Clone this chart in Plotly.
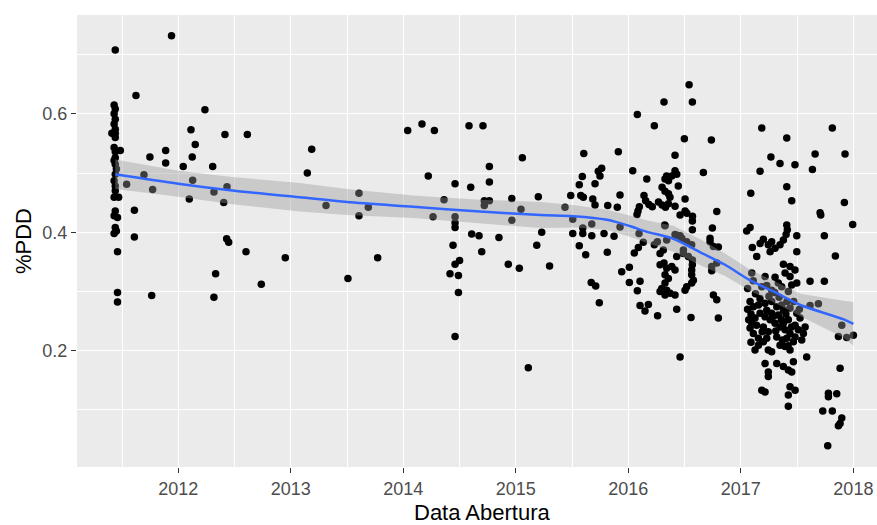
import plotly.graph_objects as go

# Opening date (decimal year) of each contract
abertura = [
    # 2011 batch
    2011.44, 2011.43, 2011.44, 2011.43, 2011.44, 2011.43, 2011.44, 2011.41, 2011.44, 2011.44,
    2011.43, 2011.44, 2011.485, 2011.44, 2011.43, 2011.44, 2011.45, 2011.44, 2011.43, 2011.44,
    2011.44, 2011.43, 2011.47, 2011.44, 2011.43, 2011.46, 2011.44, 2011.45, 2011.43, 2011.46,
    2011.46, 2011.46,
    # 2011.5 - 2013
    2011.541, 2011.624, 2011.61, 2011.61, 2011.695, 2011.748, 2011.764, 2011.772, 2011.888, 2011.888,
    2011.94, 2012.044, 2012.098, 2012.113, 2012.124, 2012.128, 2012.151, 2012.237, 2012.306, 2012.317,
    2012.317, 2012.332, 2012.404, 2012.415, 2012.43, 2012.433, 2012.448, 2012.602, 2012.614, 2012.738,
    2012.951,
    # 2013 - 2015.3
    2013.186, 2013.147, 2013.313, 2013.606, 2013.689, 2013.606, 2013.772, 2013.508, 2014.039, 2014.166,
    2014.276, 2014.222, 2014.264, 2014.362, 2014.584, 2014.708, 2014.765, 2014.46, 2014.599, 2014.765,
    2014.72, 2014.765, 2014.72, 2014.46, 2014.46, 2014.46, 2014.608, 2014.673, 2014.85, 2014.442,
    2014.697, 2014.46, 2014.50, 2014.415, 2014.49, 2014.49, 2014.46, 2015.058, 2014.964, 2015.046,
    2014.964, 2014.933, 2015.031, 2015.23, 2015.186, 2015.2, 2015.30, 2015.111,
    # 2015.3 - 2016.8
    2016.54, 2016.317, 2016.569, 2016.08, 2016.231, 2016.498, 2016.738, 2015.604, 2015.911, 2016.415,
    2016.039, 2015.763, 2015.733, 2015.748, 2015.591, 2016.164, 2016.415, 2016.43, 2016.386, 2016.667,
    2016.34, 2016.326, 2016.357, 2015.704, 2015.564, 2016.444, 2016.30, 2016.326, 2016.357, 2016.37,
    2015.488, 2015.577, 2015.6, 2015.926, 2015.684, 2015.704, 2015.817, 2015.902, 2016.139, 2016.154,
    2016.183, 2016.213, 2016.098, 2016.086, 2016.077, 2016.268, 2016.30, 2016.356, 2016.33, 2016.415,
    2016.504, 2016.504, 2016.52, 2016.57, 2016.46, 2016.786, 2016.326, 2015.437,
    2015.506, 2015.506, 2015.595, 2015.595, 2015.675, 2015.675, 2015.784, 2015.873, 2015.926, 2016.095,
    2016.569, 2016.747, 2016.726, 2016.415, 2016.46,
    2015.564, 2015.621, 2015.813, 2015.67, 2015.71, 2015.742, 2015.941, 2016.009, 2016.009, 2016.104,
    2016.08, 2016.053, 2016.089, 2016.133, 2016.104, 2016.178, 2016.148, 2016.26, 2016.43, 2016.557,
    2016.46,
    2016.231, 2016.258, 2016.311, 2016.341, 2016.282,
    2016.282, 2016.317, 2016.341, 2016.386, 2016.415, 2016.326, 2016.356, 2016.326, 2016.297, 2016.282,
    2016.326, 2016.371, 2016.415, 2016.341,
    2016.519, 2016.504, 2016.563, 2016.578, 2016.563, 2016.563, 2016.569, 2016.569, 2016.533, 2016.489,
    2016.43,
    2016.43, 2016.475, 2016.519, 2016.563, 2016.489, 2016.323, 2016.569,
    2016.726, 2016.756, 2016.741, 2016.786, 2016.756, 2016.786, 2016.8, 2016.741,
    # 2016.8 - 2018
    2017.186, 2017.408, 2017.813, 2017.267, 2017.348, 2017.481, 2017.171, 2017.66, 2017.926, 2017.636,
    2017.088, 2017.408, 2017.452, 2017.92, 2017.704, 2017.71, 2017.994, 2017.052, 2017.082,
    2017.408, 2017.413, 2017.402, 2017.378, 2017.348, 2017.304, 2017.26, 2017.244, 2017.274, 2017.2,
    2017.171, 2017.497, 2017.742, 2016.8, 2017.102, 2017.141, 2017.497, 2017.84,
    2017.378, 2017.437, 2017.481, 2017.393, 2017.437, 2017.497, 2017.452, 2017.363, 2017.422,
    2017.097, 2017.215, 2017.304, 2017.333, 2017.274, 2017.186, 2017.615, 2017.742, 2017.689, 2017.615,
    2017.082, 2017.111, 2017.156, 2017.215, 2017.274, 2017.319, 2017.363, 2017.378, 2017.437, 2017.497,
    2017.526, 2017.571, 2017.556, 2017.541, 2017.482, 2017.437, 2017.393, 2017.348, 2017.304, 2017.26,
    2017.215, 2017.171, 2017.126, 2017.097, 2017.082, 2017.111, 2017.156, 2017.2, 2017.156, 2017.126,
    2017.244, 2017.274, 2017.348, 2017.393, 2017.437, 2017.467, 2017.408, 2017.319, 2017.244, 2017.2,
    2017.274, 2017.333, 2017.422, 2017.482, 2017.511, 2017.378, 2017.23,
    2017.06, 2017.07, 2017.09, 2017.14, 2017.19, 2017.23, 2017.29, 2017.31, 2017.36, 2017.40,
    2017.45, 2017.47, 2017.52, 2017.17, 2017.25, 2017.13, 2017.34, 2017.41, 2017.06, 2017.11,
    2017.23, 2017.30, 2017.09, 2017.37, 2017.42,
    2017.585, 2017.215, 2017.244, 2017.244, 2017.319, 2017.378, 2017.422, 2017.452, 2017.467,
    2017.186, 2017.215, 2017.437, 2017.482, 2017.422, 2017.422,
    2017.882, 2017.778, 2017.852, 2017.778, 2017.728, 2017.813, 2017.897, 2017.882, 2017.867, 2017.772,
    2017.867, 2017.941, 2018.0, 2017.897,
]

pdd = [
    # 2011 batch
    0.708, 0.615, 0.608, 0.600, 0.591, 0.583, 0.574, 0.567, 0.567, 0.560,
    0.543, 0.536, 0.538, 0.526, 0.521, 0.515, 0.507, 0.498, 0.487, 0.478,
    0.470, 0.459, 0.459, 0.436, 0.428, 0.425, 0.408, 0.402, 0.398, 0.367,
    0.298, 0.282,
    # 2011.5 - 2013
    0.481, 0.631, 0.437, 0.392, 0.497, 0.527, 0.293, 0.472, 0.538, 0.517,
    0.732, 0.511, 0.456, 0.573, 0.527, 0.488, 0.548, 0.607, 0.511, 0.468,
    0.290, 0.330, 0.450, 0.565, 0.389, 0.477, 0.383, 0.367, 0.565, 0.312,
    0.357,
    # 2013 - 2015.3
    0.540, 0.500, 0.445, 0.466, 0.442, 0.428, 0.357, 0.322, 0.572, 0.583,
    0.572, 0.495, 0.426, 0.455, 0.580, 0.580, 0.511, 0.482, 0.476, 0.485,
    0.453, 0.453, 0.445, 0.426, 0.416, 0.408, 0.397, 0.394, 0.391, 0.378,
    0.367, 0.346, 0.352, 0.330, 0.327, 0.298, 0.224, 0.526, 0.457, 0.439,
    0.420, 0.346, 0.339, 0.400, 0.378, 0.460, 0.343, 0.171,
    # 2015.3 - 2016.8
    0.649, 0.620, 0.620, 0.599, 0.580, 0.558, 0.556, 0.533, 0.536, 0.530,
    0.504, 0.508, 0.503, 0.495, 0.494, 0.490, 0.504, 0.498, 0.495, 0.501,
    0.495, 0.490, 0.487, 0.482, 0.480, 0.478, 0.476, 0.469, 0.465, 0.459,
    0.462, 0.462, 0.459, 0.463, 0.456, 0.446, 0.445, 0.442, 0.462, 0.453,
    0.447, 0.443, 0.443, 0.436, 0.430, 0.451, 0.446, 0.448, 0.442, 0.444,
    0.456, 0.436, 0.432, 0.427, 0.429, 0.435, 0.411, 0.442,
    0.422, 0.398, 0.407, 0.398, 0.414, 0.394, 0.398, 0.393, 0.409, 0.398,
    0.404, 0.407, 0.390, 0.396, 0.394,
    0.377, 0.362, 0.366, 0.315, 0.309, 0.281, 0.333, 0.341, 0.315, 0.317,
    0.301, 0.365, 0.374, 0.383, 0.276, 0.278, 0.267, 0.259, 0.270, 0.256,
    0.189,
    0.379, 0.384, 0.370, 0.387, 0.364,
    0.345, 0.348, 0.339, 0.342, 0.336, 0.328, 0.322, 0.314, 0.305, 0.300,
    0.294, 0.297, 0.294, 0.302,
    0.308, 0.302, 0.314, 0.319, 0.328, 0.336, 0.345, 0.353, 0.359, 0.364,
    0.359,
    0.395, 0.390, 0.384, 0.379, 0.370, 0.412, 0.419,
    0.384, 0.376, 0.342, 0.348, 0.294, 0.286, 0.255, 0.335,
    # 2016.8 - 2018
    0.576, 0.559, 0.576, 0.527, 0.516, 0.514, 0.503, 0.532, 0.532, 0.506,
    0.466, 0.477, 0.453, 0.450, 0.433, 0.429, 0.413, 0.402, 0.408,
    0.412, 0.404, 0.396, 0.387, 0.379, 0.373, 0.367, 0.379, 0.384, 0.388,
    0.381, 0.394, 0.394, 0.375, 0.374, 0.359, 0.367, 0.360,
    0.346, 0.342, 0.336, 0.331, 0.325, 0.314, 0.311, 0.308, 0.300,
    0.331, 0.325, 0.324, 0.314, 0.302, 0.308, 0.317, 0.317, 0.279, 0.276,
    0.283, 0.274, 0.277, 0.280, 0.283, 0.274, 0.277, 0.269, 0.272, 0.263,
    0.255, 0.240, 0.229, 0.218, 0.223, 0.229, 0.235, 0.240, 0.246, 0.252,
    0.257, 0.263, 0.255, 0.246, 0.238, 0.229, 0.221, 0.215, 0.209, 0.201,
    0.201, 0.198, 0.209, 0.207, 0.201, 0.215, 0.221, 0.223, 0.232, 0.240,
    0.263, 0.260, 0.252, 0.243, 0.235, 0.246, 0.221,
    0.270, 0.252, 0.262, 0.243, 0.232, 0.268, 0.258, 0.233, 0.252, 0.262,
    0.240, 0.283, 0.270, 0.288, 0.292, 0.296, 0.290, 0.283, 0.305, 0.318,
    0.310, 0.298, 0.214, 0.218, 0.208,
    0.189, 0.178, 0.164, 0.156, 0.178, 0.173, 0.167, 0.164, 0.181,
    0.133, 0.130, 0.139, 0.133, 0.125, 0.106,
    0.170, 0.128, 0.127, 0.122, 0.098, 0.098, 0.086, 0.077, 0.073, 0.039,
    0.224, 0.222, 0.226, 0.243,
]

# Local regression fit with its standard-error half width
smooth_x = [2011.44, 2012.0, 2012.5, 2013.08, 2013.5, 2014.09, 2014.68, 2015.22, 2015.51, 2015.81,
            2016.02, 2016.16, 2016.40, 2016.64, 2016.86, 2017.08, 2017.30, 2017.53, 2017.91, 2018.0]
smooth_fit = [0.498, 0.482, 0.470, 0.459, 0.451, 0.443, 0.435, 0.429, 0.427, 0.421,
              0.410, 0.401, 0.389, 0.366, 0.345, 0.319, 0.299, 0.277, 0.253, 0.245]
smooth_se = [0.025, 0.022, 0.023, 0.024, 0.022, 0.019, 0.020, 0.022, 0.019, 0.017,
             0.018, 0.019, 0.022, 0.022, 0.019, 0.018, 0.018, 0.019, 0.031, 0.037]

year_ticks = [2012, 2013, 2014, 2015, 2016, 2017, 2018]

upper = [f + s for f, s in zip(smooth_fit, smooth_se)]
lower = [f - s for f, s in zip(smooth_fit, smooth_se)]

fig = go.Figure()

fig.add_trace(go.Scatter(
    x=abertura, y=pdd, mode="markers",
    marker=dict(color="black", size=7.5, line=dict(width=0)),
    hoverinfo="x+y", showlegend=False,
))

# Confidence ribbon drawn above the points, then the fitted line
fig.add_trace(go.Scatter(
    x=smooth_x + smooth_x[::-1], y=upper + lower[::-1],
    mode="lines", fill="toself", fillcolor="rgba(153,153,153,0.4)",
    line=dict(width=0), hoverinfo="skip", showlegend=False,
))
fig.add_trace(go.Scatter(
    x=smooth_x, y=smooth_fit, mode="lines",
    line=dict(color="#3366FF", width=2.5, shape="spline", smoothing=0.8),
    hoverinfo="skip", showlegend=False,
))

tick_font = dict(family="Liberation Sans, Arial, sans-serif", size=18, color="#4D4D4D")
title_font = dict(family="Liberation Sans, Arial, sans-serif", size=22, color="black")

fig.update_layout(
    width=877, height=525,
    margin=dict(l=77, r=0, t=15, b=58),
    paper_bgcolor="white", plot_bgcolor="#EBEBEB",
    showlegend=False,
    xaxis=dict(
        range=[2011.10, 2018.21],
        tickmode="array", tickvals=year_ticks, ticktext=[str(y) for y in year_ticks],
        showgrid=True, gridcolor="white", gridwidth=1.3,
        minor=dict(dtick=0.5, tick0=2011.5, showgrid=True, gridcolor="white", gridwidth=0.6, ticklen=0),
        ticks="outside", ticklen=5, tickcolor="#333333", tickwidth=1.1,
        tickfont=tick_font, zeroline=False, showline=False,
    ),
    yaxis=dict(
        range=[0.0033, 0.767],
        tick0=0, dtick=0.2, tickformat=".1f",
        showgrid=True, gridcolor="white", gridwidth=1.3,
        minor=dict(dtick=0.1, tick0=0, showgrid=True, gridcolor="white", gridwidth=0.6, ticklen=0),
        ticks="outside", ticklen=5, tickcolor="#333333", tickwidth=1.1,
        tickfont=tick_font, zeroline=False, showline=False,
    ),
    annotations=[
        dict(text="Data Abertura", xref="paper", yref="paper", x=0.5075, y=-0.0996,
             xanchor="center", yanchor="middle", showarrow=False, font=title_font),
        dict(text="%PDD", xref="paper", yref="paper", x=-0.0675, y=0.5,
             xanchor="center", yanchor="middle", textangle=-90, showarrow=False, font=title_font),
    ],
)

fig.write_html("out.html")
